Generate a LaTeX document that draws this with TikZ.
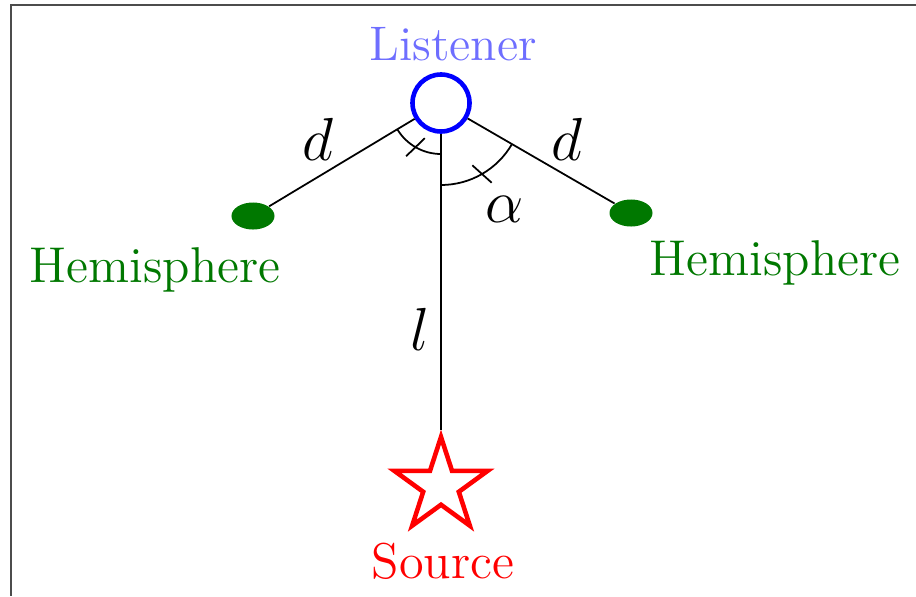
\documentclass[tikz,border=0pt]{standalone}
\usetikzlibrary{shapes.geometric}
\definecolor{hemigreen}{RGB}{0,120,0}
\definecolor{lisblue}{RGB}{110,110,255}
\begin{document}
\begin{tikzpicture}[x=0.01cm, y=0.01cm,
            thin line/.style={draw=black, line width=0.5pt},
            dot/.style={ellipse, fill=hemigreen, minimum width=0.43cm, minimum height=0.27cm, inner sep=0pt},
            word/.style={anchor=base, inner sep=0pt, font=\fontsize{14.3}{17}\selectfont},
            sym/.style={anchor=base, inner sep=0pt, font=\fontsize{19}{22}\selectfont}
            ]
            \useasboundingbox (0,0) rectangle (916,596);
            % frame
            \draw[gray!60!black, line width=0.8pt] (916,591) -- (11,591) -- (11,0);

            \node[circle, draw=blue, line width=1.3pt, minimum size=0.57cm, inner sep=0pt] (lis) at (441,493) {};
            \node[star, star points=5, star point ratio=2.618, draw=red, line width=1.3pt, minimum size=0.98cm, inner sep=0pt] (src) at (441,110) {};
            \node[dot] (hl) at (253,380) {};
            \node[dot] (hr) at (631,383) {};

            \node[word, text=lisblue, font=\fontsize{13.8}{16}\selectfont] (tlis) at (453,536) {Listener};
            \node[word, text=red] (tsrc) at (443,18) {Source};
            \node[word, text=hemigreen] (thl) at (155,314) {Hemisphere};
            \node[word, text=hemigreen] (thr) at (775,321) {Hemisphere};

            \node[sym] (dl) at (318,436) {$d$};
            \node[sym] (dr) at (567,436) {$d$};
            \node[sym] (al) at (505,374) {$\alpha$};
            \node[sym] (ll) at (420,246) {$l$};

            \draw[thin line] (lis) -- (src);
            \draw[thin line] (lis) -- (hl);
            \draw[thin line] (lis) -- (hr);

            % angles
            \draw[thin line] ([shift={(211:51)}]lis.center) arc[start angle=211, end angle=270, radius=51];
            \draw[thin line] ([shift={(270:82)}]lis.center) arc[start angle=270, end angle=330, radius=82];
            \draw[thin line] ([shift={(240:51)}]lis.center) ++(224:13) -- ++(44:26);
            \draw[thin line] ([shift={(300:82)}]lis.center) ++(138:13) -- ++(318:26);
\end{tikzpicture}
\end{document}
